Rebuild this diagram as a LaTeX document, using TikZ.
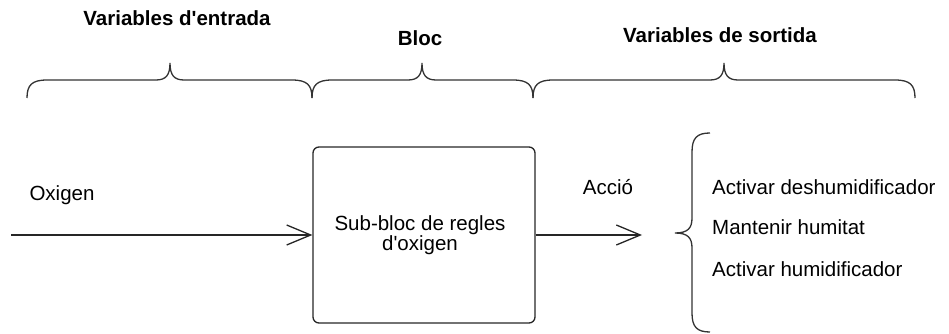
\documentclass[tikz,border=0pt]{standalone}
\usepackage{fontspec}
\setmainfont{Liberation Sans}
\usetikzlibrary{arrows.meta}
\newcommand{\apos}{\textquotesingle}

\begin{document}
\begin{tikzpicture}[x=1pt,y=-1pt,
  lbl/.style={inner sep=0pt,font=\fontsize{20.5}{23}\selectfont},
  ttl/.style={inner sep=0pt,font=\fontsize{20.5}{23}\selectfont\bfseries},
  brace/.style={draw=black!80,line width=1.3pt},
  flow/.style={draw=black!85,line width=1.3pt,-{Straight Barb[length=24pt,width=20pt,line width=1.3pt]}},
  block/.style={draw=black!85,line width=1.3pt,rounded corners=6pt,minimum width=222pt,minimum height=176pt,inner sep=0pt}]
\useasboundingbox (0,0) rectangle (949,334);

% column headings
\node[ttl] (hin)  at (177,18) {Variables d\apos entrada};
\node[ttl] (hblk) at (420,38) {Bloc};
\node[ttl] (hout) at (720,35) {Variables de sortida};

% horizontal braces under the headings
\foreach \xa/\xt/\xb in {27/170/312, 312/422/533, 533/724/915}{
  \draw[brace] (\xa,98) .. controls (\xa,85) and (\xa+5,80) .. (\xa+20,80)
    -- (\xt-14,80) .. controls (\xt-4,80) and (\xt,75) .. (\xt,63)
    .. controls (\xt,75) and (\xt+4,80) .. (\xt+14,80)
    -- (\xb-20,80) .. controls (\xb-5,80) and (\xb,85) .. (\xb,98);
}

% rule block
\node[block] (blk) at (424,235) {};
\node[lbl,align=center] (blktxt) at (420,235) {Sub-bloc de regles\\[-3pt]d\apos oxigen};

% input and output
\coordinate (src) at (11,235);
\coordinate (dst) at (642,235);
\node[lbl] (oxi) at (62,195) {Oxigen};
\node[lbl] (acc) at (608,187) {Acció};
\draw[flow] (src) -- (blk.west);
\draw[flow] (blk.east) -- (dst);

% vertical brace grouping the possible actions
\draw[brace] (710,133) .. controls (697,133) and (692,138) .. (692,152)
  -- (692,218) .. controls (692,228) and (688,233) .. (675,233)
  .. controls (688,233) and (692,238) .. (692,248)
  -- (692,313) .. controls (692,327) and (697,332) .. (710,332);

\node[lbl,anchor=west] (a1) at (712,187) {Activar deshumidificador};
\node[lbl,anchor=west] (a2) at (712,227) {Mantenir humitat};
\node[lbl,anchor=west] (a3) at (712,269) {Activar humidificador};
\end{tikzpicture}
\end{document}
